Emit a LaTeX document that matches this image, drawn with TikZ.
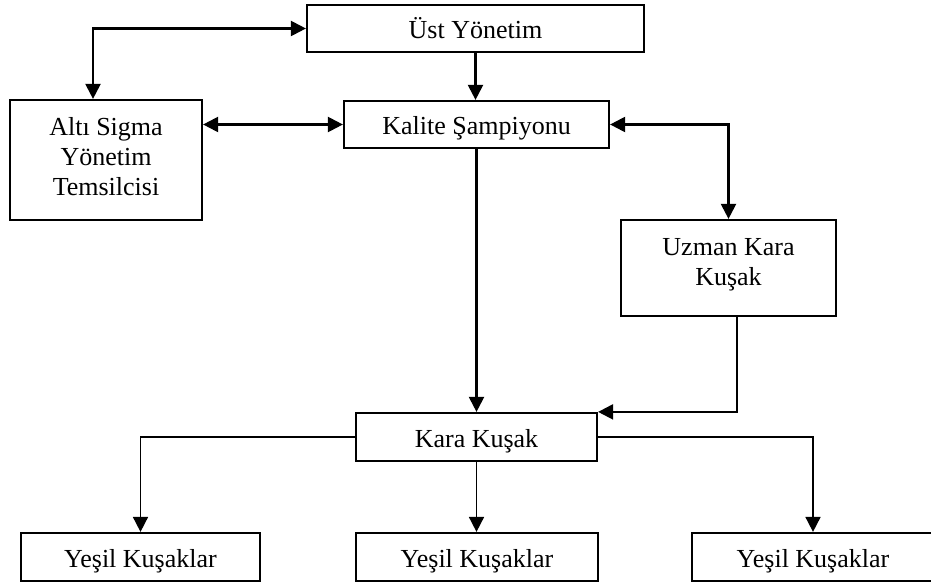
\documentclass[tikz,border=0pt]{standalone}
\usepackage{fontspec}
\setmainfont{Liberation Serif}
\usetikzlibrary{arrows.meta}

\begin{document}
\begin{tikzpicture}[x=1pt,y=-1pt,
  every node/.style={font=\fontsize{26}{30}\selectfont},
  unit/.style={draw, line width=2.2pt, inner sep=0pt, fill=white},
  oneline/.style={unit, text height=22pt, text depth=2pt},
  link/.style={line width=2.2pt, -{Triangle[length=15pt,width=15pt]}},
  twoway/.style={line width=2.2pt, {Triangle[length=15pt,width=15pt]}-{Triangle[length=15pt,width=15pt]}},
  branch/.style={line width=1.7pt, -{Triangle[length=15pt,width=15pt]}}]

\useasboundingbox (0,0) rectangle (931,585);

% boxes of the organisation chart
\node[oneline, minimum width=337pt, minimum height=47pt] (ust) at (475.5,28.5) {Üst Yönetim};
\node[unit, minimum width=192pt, minimum height=120pt] (alti) at (106,160)
  {\begin{tabular}{@{}c@{}}Altı Sigma\\Yönetim\\Temsilcisi\end{tabular}};
\node[oneline, minimum width=265pt, minimum height=47pt] (kalite) at (476.5,124.5) {Kalite Şampiyonu};
\node[unit, minimum width=215pt, minimum height=96pt] (uzman) at (728.5,268)
  {\raisebox{4pt}[\height][\depth]{\begin{tabular}{@{}c@{}}Uzman Kara\\Kuşak\end{tabular}}};
\node[oneline, minimum width=241pt, minimum height=48pt] (kara) at (476.5,437) {Kara Kuşak};
\node[oneline, minimum width=239pt, minimum height=48pt] (yesilA) at (140.5,557) {Yeşil Kuşaklar};
\node[oneline, minimum width=242pt, minimum height=48pt] (yesilB) at (477,557) {Yeşil Kuşaklar};
\node[oneline, minimum width=242pt, minimum height=48pt] (yesilC) at (813,557) {Yeşil Kuşaklar};

% connectors
\draw[twoway] (ust.west) -| ([xshift=-13pt]alti.north);
\draw[link] (ust.south) -- (ust.south |- kalite.north);
\draw[twoway] (alti.east |- kalite.west) -- (kalite.west);
\draw[twoway] (kalite.east) -| (uzman.north);
\draw[link] (kalite.south) -- (kalite.south |- kara.north);
\draw[link] ([xshift=8.5pt]uzman.south) |- (kara.north east);

\draw[branch] (kara.west) -| (yesilA.north);
\draw[branch] (kara.south) -- (kara.south |- yesilB.north);
\draw[branch] (kara.east) -| (yesilC.north);
\end{tikzpicture}
\end{document}
